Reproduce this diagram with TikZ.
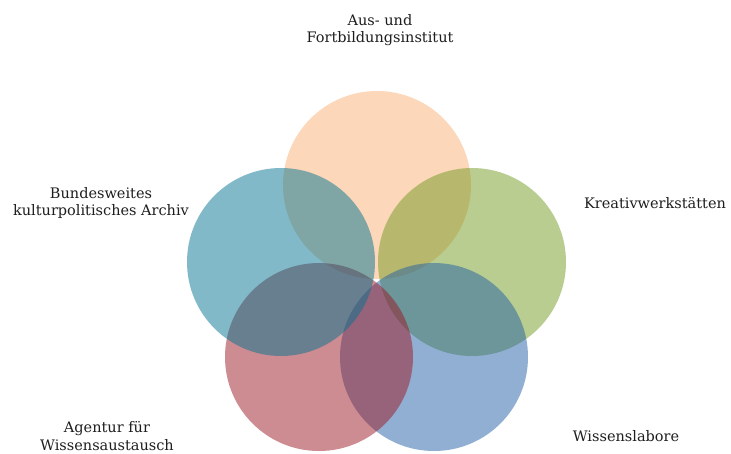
\documentclass[tikz,border=0pt]{standalone}
\usepackage{fontspec}
\setmainfont{DejaVu Serif}
\usetikzlibrary{positioning}

\definecolor{peach}{RGB}{249,175,115}
\definecolor{leaf}{RGB}{115,155,35}
\definecolor{sky}{RGB}{35,95,165}
\definecolor{rose}{RGB}{155,25,35}
\definecolor{teal}{RGB}{5,115,145}
\definecolor{ink}{RGB}{30,30,30}

\begin{document}
\begin{tikzpicture}[
    x=1pt, y=-1pt,
    ring/.style={circle, draw=none, inner sep=0pt, minimum size=188pt, fill opacity=0.5},
    label/.style={align=center, font=\fontsize{14.5}{17.5}\selectfont, text=ink}
]
    \useasboundingbox (0,0) rectangle (731,453);

    % Kreise
    \node[ring, fill=peach] (aus) at (377,185) {};
    \node[ring, fill=leaf] (kreativ) at (472,262) {};
    \node[ring, fill=sky] (labor) at (434,357) {};
    \node[ring, fill=rose] (agentur) at (319,357) {};
    \node[ring, fill=teal] (archiv) at (281,262) {};

    % Beschriftungen
    \node[label] (tAus) at (380,30) {Aus- und\\Fortbildungsinstitut};
    \node[label] (tArchiv) at (101,203) {Bundesweites\\kulturpolitisches Archiv};
    \node[label] (tKreativ) at (655,203) {Kreativwerkstätten};
    \node[label] (tAgentur) at (107,436) {Agentur für\\Wissensaustausch};
    \node[label] (tLabor) at (626,436) {Wissenslabore};
\end{tikzpicture}
\end{document}
